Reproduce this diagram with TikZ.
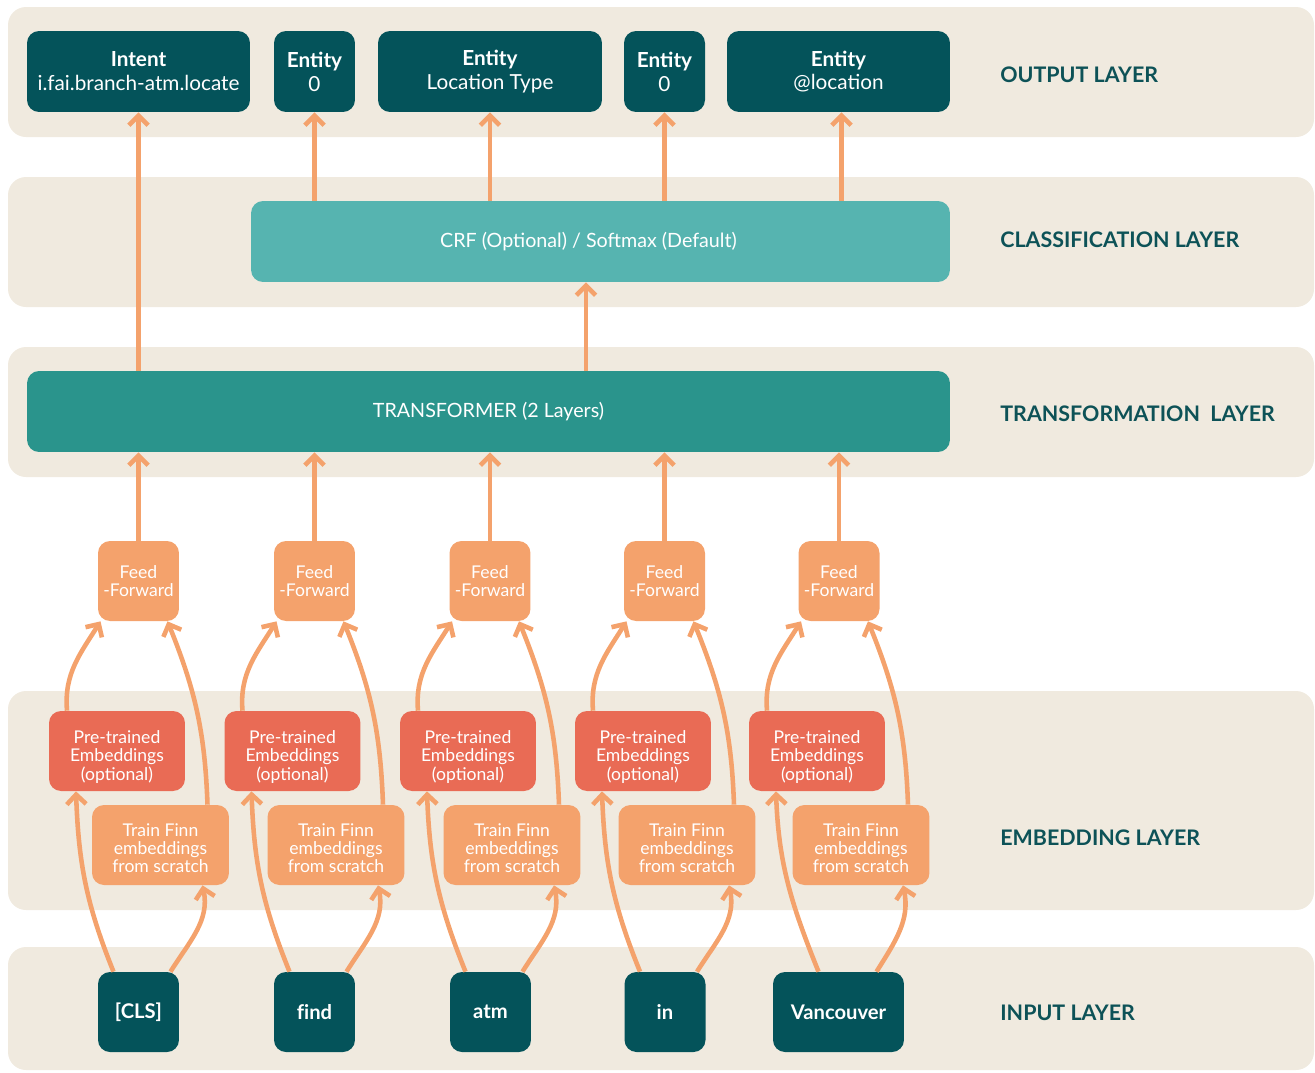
\documentclass[tikz,border=0pt]{standalone}
\usepackage{fontspec}
\setmainfont{Lato}
\usetikzlibrary{arrows.meta}

\definecolor{bandbg}{HTML}{F0EADF}
\definecolor{deepteal}{HTML}{04535A}
\definecolor{crfteal}{HTML}{56B4B0}
\definecolor{trteal}{HTML}{2A948C}
\definecolor{peach}{HTML}{F4A26C}
\definecolor{coral}{HTML}{E96B55}
\definecolor{labeltxt}{HTML}{0D5257}

\tikzset{
  band/.style={fill=bandbg, rounded corners=0.36cm},
  box/.style={rounded corners=0.24cm, inner sep=0pt, align=center, text=white},
  outbox/.style={box, fill=deepteal, minimum height=1.62cm, font=\fontsize{11.8}{13.6}\selectfont},
  inbox/.style={box, fill=deepteal, minimum height=1.6cm, minimum width=1.62cm, font=\fontsize{11.5}{13.6}\selectfont\bfseries},
  ffbox/.style={box, fill=peach, minimum height=1.6cm, minimum width=1.62cm, font=\fontsize{10}{10.4}\selectfont},
  ptbox/.style={box, fill=coral, minimum height=1.6cm, minimum width=2.72cm, font=\fontsize{10}{10.6}\selectfont},
  tfbox/.style={box, fill=peach, minimum height=1.6cm, minimum width=2.74cm, font=\fontsize{10}{10.3}\selectfont},
  layerlabel/.style={anchor=west, inner sep=0pt, text=labeltxt, font=\fontsize{12.2}{14}\selectfont\bfseries},
  arr/.style={draw=peach, line width=2.6pt, -{Straight Barb[length=5.5pt,width=11pt]}}
}
\newcommand{\ptlabel}{\rule{0pt}{14pt}Pre-trained\\Embeddings\\(optional)}
\newcommand{\tflabel}{\rule{0pt}{10.5pt}Train Finn\\embeddings\\from scratch}

\begin{document}
\begin{tikzpicture}[x=0.02cm, y=-0.02cm]
\useasboundingbox (0,0) rectangle (1315,1072);
% layer bands
\fill[band] (8,7) rectangle (1314,137);
\fill[band] (8,177) rectangle (1314,307);
\fill[band] (8,347) rectangle (1314,477);
\fill[band] (8,691) rectangle (1314,910);
\fill[band] (8,947) rectangle (1314,1070);

\node[layerlabel] (lout) at (1000,75) {OUTPUT LAYER};
\node[layerlabel] (lcls) at (1000,240) {CLASSIFICATION LAYER};
\node[layerlabel] (ltr) at (1000,414) {TRANSFORMATION\ \ LAYER};
\node[layerlabel] (lemb) at (1000,838) {EMBEDDING LAYER};
\node[layerlabel] (lin) at (1000,1013) {INPUT LAYER};

% output layer
\node[outbox, minimum width=4.46cm] (intent) at (138.5,71.5) {\textbf{Intent}\\i.fai.branch-atm.locate};
\node[outbox, minimum width=1.62cm] (ent1) at (314.5,71.5) {\textbf{Entity}\\0};
\node[outbox, minimum width=4.48cm] (ent2) at (490,71.5) {\textbf{Entity}\\Location Type};
\node[outbox, minimum width=1.62cm] (ent3) at (664.5,71.5) {\textbf{Entity}\\0};
\node[outbox, minimum width=4.46cm] (ent4) at (838.5,71.5) {\textbf{Entity}\\@location};

% classification + transformer
\node[box, fill=crfteal, minimum width=13.98cm, minimum height=1.62cm, font=\fontsize{11.2}{13}\selectfont] (crf) at (600.5,241.5) {CRF (Optional) / Softmax (Default)\hspace*{0.48cm}};
\node[box, fill=trteal, minimum width=18.46cm, minimum height=1.62cm, font=\fontsize{11.2}{13}\selectfont] (tr) at (488.5,411.5) {TRANSFORMER (2 Layers)};
\coordinate (crfin) at ([xshift=-0.29cm]crf.south);

% feed-forward
\node[ffbox] (ff1) at (138.5,581) {Feed\\-Forward};
\node[ffbox] (ff2) at (314.5,581) {Feed\\-Forward};
\node[ffbox] (ff3) at (490,581) {Feed\\-Forward};
\node[ffbox] (ff4) at (664.5,581) {Feed\\-Forward};
\node[ffbox] (ff5) at (839,581) {Feed\\-Forward};

% embeddings
\node[ptbox] (pt1) at (117,751) {\ptlabel};
\node[ptbox] (pt2) at (292.5,751) {\ptlabel};
\node[ptbox] (pt3) at (468,751) {\ptlabel};
\node[ptbox] (pt4) at (643,751) {\ptlabel};
\node[ptbox] (pt5) at (817,751) {\ptlabel};
\node[tfbox] (tf1) at (160.5,845) {\tflabel};
\node[tfbox] (tf2) at (336,845) {\tflabel};
\node[tfbox] (tf3) at (512,845) {\tflabel};
\node[tfbox] (tf4) at (687,845) {\tflabel};
\node[tfbox] (tf5) at (861,845) {\tflabel};

% input layer
\node[inbox] (in1) at (138.5,1012) {[CLS]};
\node[inbox] (in2) at (314.5,1012) {f\kern0pt ind};
\node[inbox] (in3) at (490.5,1012) {atm};
\node[inbox] (in4) at (665,1012) {in};
\node[inbox, minimum width=2.62cm] (in5) at (838.5,1012) {Vancouver};

% upper arrows
\draw[arr] (intent.south |- tr.north) -- (intent.south);
\draw[arr] (ent1.south |- crf.north) -- (ent1.south);
\draw[arr] (ent2.south |- crf.north) -- (ent2.south);
\draw[arr] (ent3.south |- crf.north) -- (ent3.south);
\draw[arr] ([xshift=0.06cm]ent4.south |- crf.north) -- ([xshift=0.06cm]ent4.south);
\draw[arr] (crfin |- tr.north) -- (crfin);
\draw[arr] (ff1.north) -- (ff1.north |- tr.south);
\draw[arr] (ff2.north) -- (ff2.north |- tr.south);
\draw[arr] (ff3.north) -- (ff3.north |- tr.south);
\draw[arr] (ff4.north) -- (ff4.north |- tr.south);
\draw[arr] (ff5.north) -- (ff5.north |- tr.south);

% embedding -> feed-forward
\draw[arr] ([xshift=-1cm]pt1.north) to[out=95,in=-122] ([xshift=-0.76cm]ff1.south);
\draw[arr] ([xshift=-1cm]pt2.north) to[out=95,in=-122] ([xshift=-0.76cm]ff2.south);
\draw[arr] ([xshift=-1cm]pt3.north) to[out=95,in=-122] ([xshift=-0.76cm]ff3.south);
\draw[arr] ([xshift=-1cm]pt4.north) to[out=95,in=-122] ([xshift=-0.76cm]ff4.south);
\draw[arr] ([xshift=-1cm]pt5.north) to[out=95,in=-122] ([xshift=-0.76cm]ff5.south);
\draw[arr] ([xshift=0.94cm]tf1.north) to[out=92,in=-68] ([xshift=0.58cm]ff1.south);
\draw[arr] ([xshift=0.94cm]tf2.north) to[out=92,in=-68] ([xshift=0.58cm]ff2.south);
\draw[arr] ([xshift=0.94cm]tf3.north) to[out=92,in=-68] ([xshift=0.58cm]ff3.south);
\draw[arr] ([xshift=0.94cm]tf4.north) to[out=92,in=-68] ([xshift=0.58cm]ff4.south);
\draw[arr] ([xshift=0.94cm]tf5.north) to[out=92,in=-68] ([xshift=0.58cm]ff5.south);

% input -> embeddings
\draw[arr] ([xshift=-0.5cm]in1.north) to[out=112,in=-88] ([xshift=-0.82cm]pt1.south);
\draw[arr] ([xshift=-0.5cm]in2.north) to[out=112,in=-88] ([xshift=-0.82cm]pt2.south);
\draw[arr] ([xshift=-0.5cm]in3.north) to[out=112,in=-88] ([xshift=-0.82cm]pt3.south);
\draw[arr] ([xshift=-0.5cm]in4.north) to[out=112,in=-88] ([xshift=-0.82cm]pt4.south);
\draw[arr] ([xshift=-0.4cm]in5.north) to[out=112,in=-88] ([xshift=-0.82cm]pt5.south);
\draw[arr] ([xshift=0.64cm]in1.north) to[out=58,in=-78] ([xshift=0.84cm]tf1.south);
\draw[arr] ([xshift=0.64cm]in2.north) to[out=58,in=-78] ([xshift=0.84cm]tf2.south);
\draw[arr] ([xshift=0.64cm]in3.north) to[out=58,in=-78] ([xshift=0.84cm]tf3.south);
\draw[arr] ([xshift=0.64cm]in4.north) to[out=58,in=-78] ([xshift=0.84cm]tf4.south);
\draw[arr] ([xshift=0.76cm]in5.north) to[out=58,in=-78] ([xshift=0.84cm]tf5.south);
\end{tikzpicture}
\end{document}
